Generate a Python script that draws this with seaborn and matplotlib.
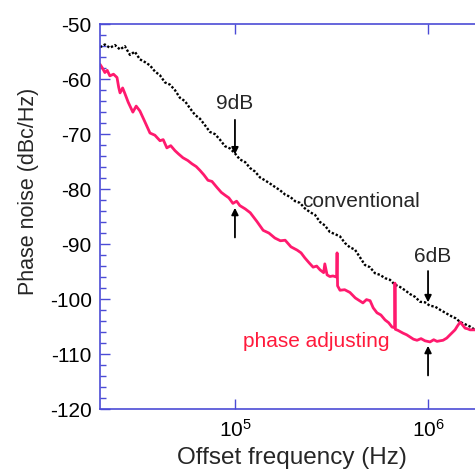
import matplotlib
matplotlib.use("Agg")
import matplotlib.pyplot as plt
from matplotlib.ticker import FixedLocator, MultipleLocator, NullLocator, LogFormatterMathtext
import pandas as pd
import seaborn as sns

# conventional (black dotted)
conv_freq = [2.0e4, 2.12e4, 2.25e4, 2.39e4, 2.54e4, 2.69e4, 2.86e4, 3.03e4, 3.22e4, 3.42e4,
             3.63e4, 3.85e4, 4.09e4, 4.34e4, 4.61e4, 4.89e4, 5.19e4, 5.51e4, 5.85e4, 6.21e4,
             6.59e4, 7.0e4, 7.42e4, 7.88e4, 8.36e4, 8.88e4, 9.42e4, 1.0e5, 1.06e5, 1.13e5,
             1.2e5, 1.27e5, 1.35e5, 1.43e5, 1.52e5, 1.61e5, 1.71e5, 1.82e5, 1.93e5, 2.05e5,
             2.17e5, 2.3e5, 2.45e5, 2.6e5, 2.76e5, 2.92e5, 3.1e5, 3.3e5, 3.5e5, 3.71e5,
             3.94e5, 4.18e5, 4.44e5, 4.71e5, 5.0e5, 5.31e5, 5.64e5, 5.99e5, 6.35e5, 6.74e5,
             7.16e5, 7.6e5, 8.07e5, 8.56e5, 9.1e5, 9.65e5, 1.02e6, 1.09e6, 1.16e6, 1.23e6,
             1.3e6, 1.39e6, 1.47e6, 1.56e6, 1.65e6, 1.75e6, 2.0e6]
conv_db = [-54.2, -53.7, -54.3, -53.8, -54.6, -54.0, -55.6, -55.0, -56.4, -56.9,
           -57.5, -58.6, -59.3, -60.6, -61.0, -62.0, -63.4, -64.0, -65.3, -66.5,
           -67.2, -68.4, -69.6, -70.0, -71.0, -72.2, -72.6, -73.5, -74.6, -75.1,
           -76.2, -76.8, -77.9, -78.4, -79.0, -79.6, -80.2, -81.0, -81.4, -82.2,
           -82.5, -83.5, -84.2, -84.7, -86.0, -86.6, -87.8, -88.2, -88.6, -89.8,
           -90.6, -91.0, -92.4, -93.8, -94.2, -95.3, -95.6, -96.2, -96.5, -97.4,
           -97.8, -98.4, -99.1, -99.6, -100.5, -100.6, -101.2, -101.4, -102.0, -102.5,
           -103.0, -103.5, -104.2, -104.6, -105.0, -105.6, -105.9]

# phase adjusting (red solid)
adj_freq = [2.0e4, 2.06e4, 2.12e4, 2.18e4, 2.25e4, 2.35e4, 2.45e4, 2.5e4, 2.54e4, 2.62e4,
            2.69e4, 2.8e4, 2.96e4, 3.08e4, 3.22e4, 3.4e4, 3.63e4, 3.85e4, 4.09e4, 4.25e4,
            4.44e4, 4.65e4, 4.89e4, 5.1e4, 5.38e4, 5.7e4, 5.99e4, 6.3e4, 6.59e4, 6.9e4,
            7.25e4, 7.6e4, 8.07e4, 8.5e4, 8.88e4, 9.3e4, 9.76e4, 1.02e5, 1.06e5, 1.13e5,
            1.2e5, 1.3e5, 1.4e5, 1.5e5, 1.61e5, 1.72e5, 1.82e5, 1.95e5, 2.1e5, 2.2e5,
            2.3e5, 2.42e5, 2.54e5, 2.65e5, 2.76e5, 2.88e5, 2.92e5, 3.0e5, 3.1e5, 3.22e5,
            3.36e5, 3.38e5, 3.4e5, 3.5e5, 3.7e5, 3.94e5, 4.2e5, 4.6e5, 4.8e5, 5.01e5,
            5.2e5, 5.44e5, 5.7e5, 5.99e5, 6.25e5, 6.51e5, 6.72e5, 6.74e5, 6.77e5, 6.99e5,
            7.42e5, 7.75e5, 8.07e5, 8.4e5, 8.77e5, 9.2e5, 9.65e5, 1.024e6, 1.07e6, 1.113e6,
            1.15e6, 1.196e6, 1.25e6, 1.3e6, 1.38e6, 1.42e6, 1.466e6, 1.5e6, 1.556e6, 1.6e6,
            1.651e6, 1.75e6, 2.0e6]
adj_db = [-57.3, -58.0, -58.8, -58.4, -59.4, -59.1, -59.7, -61.5, -62.5, -61.6,
          -62.6, -64.2, -66.0, -64.9, -65.8, -67.6, -69.8, -70.2, -71.2, -71.0,
          -72.5, -72.1, -73.0, -73.6, -74.3, -74.8, -75.4, -75.9, -76.6, -77.4,
          -78.4, -78.6, -79.7, -80.6, -81.1, -81.6, -82.6, -82.2, -83.0, -83.6,
          -84.3, -85.9, -87.5, -88.0, -88.9, -89.4, -89.3, -90.5, -91.1, -91.6,
          -92.5, -93.4, -94.2, -94.0, -94.7, -95.2, -93.6, -95.6, -95.9, -95.8,
          -96.0, -91.6, -97.6, -98.4, -98.3, -98.8, -99.8, -100.7, -100.1, -100.3,
          -101.6, -102.5, -102.9, -103.8, -104.3, -105.1, -105.2, -97.1, -105.5, -105.7,
          -106.2, -106.5, -106.9, -107.3, -107.5, -107.2, -107.6, -107.8, -107.4, -107.7,
          -107.6, -107.5, -107.1, -106.5, -105.6, -104.9, -104.2, -104.6, -105.3, -105.4,
          -105.6, -105.6, -105.8]

conv = pd.DataFrame({"freq": conv_freq, "db": conv_db})
adj = pd.DataFrame({"freq": adj_freq, "db": adj_db})

sns.set_style("ticks")
plt.rcParams["font.family"] = ["Liberation Sans", "DejaVu Sans"]
plt.rcParams["axes.unicode_minus"] = False

axis_col = "#4b4bd6"
red = "#ff1a6e"

fig = plt.figure(figsize=(4.75, 4.73), dpi=100)
ax = fig.add_axes([0.2105, 0.1353, 0.813, 0.8136])

sns.lineplot(data=conv, x="freq", y="db", ax=ax, color="black", lw=1.7,
             linestyle=(0, (1, 0.8)), estimator=None)
sns.lineplot(data=adj, x="freq", y="db", ax=ax, color=red, lw=2.0, estimator=None)

ax.set_xscale("log")
ax.set_xlim(2e4, 2e6)
ax.set_ylim(-120, -50)

ax.xaxis.set_major_locator(FixedLocator([1e5, 1e6]))
ax.xaxis.set_major_formatter(LogFormatterMathtext())
ax.xaxis.set_minor_locator(NullLocator())
ax.yaxis.set_major_locator(MultipleLocator(10))
ax.yaxis.set_minor_locator(MultipleLocator(2))

for s in ax.spines.values():
    s.set_color(axis_col)
    s.set_linewidth(1.2)
ax.tick_params(which="both", direction="in", color=axis_col, width=1.0,
               top=True, right=True, labelsize=15, labelcolor="black")
ax.tick_params(which="major", length=7)
ax.tick_params(which="minor", length=4)
ax.tick_params(axis="y", pad=6)
ax.tick_params(axis="x", pad=7)

ax.set_xlabel("Offset frequency (Hz)", fontsize=17.5)
ax.set_ylabel("Phase noise (dBc/Hz)", fontsize=15.5)
ax.xaxis.set_label_coords(0.497, -0.1)
ax.yaxis.set_label_coords(-0.158, 0.565)

arr = dict(arrowstyle="-|>", color="black", lw=1.3, mutation_scale=10)
ax.text(1e5, -64.4, "9dB", ha="center", va="center", fontsize=15)
ax.annotate("", xy=(1e5, -74.2), xytext=(1e5, -66.9), arrowprops=arr)
ax.annotate("", xy=(1e5, -82.9), xytext=(1e5, -89.3), arrowprops=arr)
ax.text(1.05e6, -92.2, "6dB", ha="center", va="center", fontsize=15)
ax.annotate("", xy=(1e6, -101.1), xytext=(1e6, -94.4), arrowprops=arr)
ax.annotate("", xy=(1e6, -108.0), xytext=(1e6, -114.4), arrowprops=arr)
ax.text(2.22e5, -82.2, "conventional", ha="left", va="center", fontsize=15)
ax.text(1.1e5, -107.8, "phase adjusting", ha="left", va="center", fontsize=15,
        color="#ff1a3c")

fig.savefig("out.png", dpi=100)
